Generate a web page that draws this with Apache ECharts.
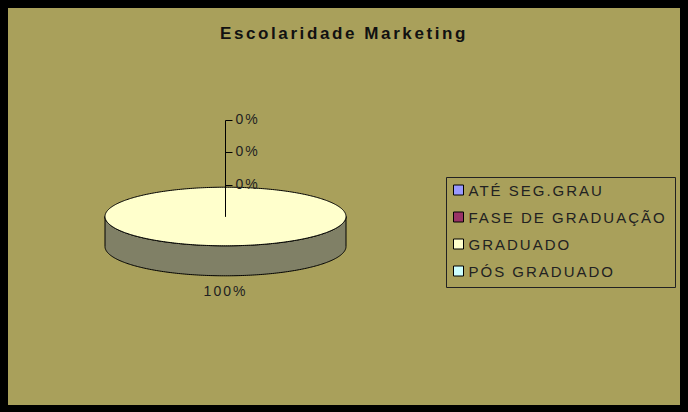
<!DOCTYPE html>
<html><head><meta charset="utf-8">
<script src="https://cdn.jsdelivr.net/npm/echarts@6/dist/echarts.min.js"></script>
<style>
html,body{margin:0;padding:0;background:#000;}
#c{width:688px;height:412px;}
#c text{letter-spacing:2px;}
#c text[style*="bold"]{letter-spacing:2.6px;}
</style></head>
<body><div id="c"></div>
<script>
// ---- data ----
const categories = ['ATÉ SEG.GRAU', 'FASE DE GRADUAÇÃO', 'GRADUADO', 'PÓS GRADUADO'];
const values = [0, 0, 100, 0];
const chartTitle = 'Escolaridade Marketing';

// ---- layout helpers ----
const total = values.reduce((a, b) => a + b, 0);
const startAngles = [];
let acc = 0;
values.forEach(v => { startAngles.push(acc / total * 2 * Math.PI); acc += v; });
const zeroRank = [];
let zc = 0;
values.forEach(v => { zeroRank.push(v === 0 ? zc++ : -1); });

const PIE = { cx: 225.5, cy: 216.5, rx: 120.5, ry: 29.3, depth: 30 };
function pt(a, dy) {
  return [PIE.cx + PIE.rx * Math.sin(a), PIE.cy - PIE.ry * Math.cos(a) + (dy || 0)];
}
function shade(hex, f) {
  const h = hex.replace('#', '');
  const r = Math.round(parseInt(h.substr(0, 2), 16) * f);
  const g = Math.round(parseInt(h.substr(2, 2), 16) * f);
  const b = Math.round(parseInt(h.substr(4, 2), 16) * f);
  return 'rgb(' + r + ',' + g + ',' + b + ')';
}
const labelFont = { fontSize: 14, fontFamily: 'Liberation Sans', fill: '#222' };

function renderSlice(i) {
  return function (params, api) {
    const v = api.value(0);
    const a0 = startAngles[i];
    const a1 = a0 + v / total * 2 * Math.PI;
    const color = api.visual('color');
    const pct = Math.round(v / total * 100) + '%';
    const children = [];
    const step = Math.PI / 180;
    if (a1 > a0 + 1e-9) {
      const s = Math.max(a0, Math.PI / 2), e = Math.min(a1, 3 * Math.PI / 2);
      if (e > s) {
        const pts = [];
        const n = Math.max(2, Math.ceil((e - s) / step));
        for (let k = 0; k <= n; k++) pts.push(pt(s + (e - s) * k / n));
        for (let k = n; k >= 0; k--) pts.push(pt(s + (e - s) * k / n, PIE.depth));
        children.push({ type: 'polygon', z2: 1, shape: { points: pts },
          style: { fill: shade(color, 0.5), stroke: '#000', lineWidth: 1 } });
      }
      const top = [];
      const full = (a1 - a0) >= 2 * Math.PI - 1e-9;
      if (!full) top.push([PIE.cx, PIE.cy]);
      const n = Math.max(2, Math.ceil((a1 - a0) / step));
      for (let k = 0; k <= n; k++) top.push(pt(a0 + (a1 - a0) * k / n));
      children.push({ type: 'polygon', z2: 2, shape: { points: top },
        style: { fill: color, stroke: '#000', lineWidth: 1 } });
      const mid = (a0 + a1) / 2;
      const sx = Math.sin(mid), cz = Math.cos(mid);
      const lx = PIE.cx + (PIE.rx + 15) * sx;
      const ly = PIE.cy - (PIE.ry + 15) * cz + (cz < 0 ? PIE.depth * (-cz) : 0);
      children.push({ type: 'text', z2: 4,
        style: Object.assign({ text: pct, x: lx, y: ly,
          align: Math.abs(sx) < 0.3 ? 'center' : (sx > 0 ? 'left' : 'right'),
          verticalAlign: 'middle' }, labelFont) });
    } else {
      const r = zeroRank[i];
      const tickY = Math.round(PIE.cy - PIE.ry - 2.5 - r * 32.3) + 0.5;
      children.push({ type: 'polyline', z2: 3,
        shape: { points: [[PIE.cx, PIE.cy], [PIE.cx, tickY], [PIE.cx + 7, tickY]] },
        style: { stroke: '#000', lineWidth: 1, fill: null } });
      children.push({ type: 'text', z2: 4,
        style: Object.assign({ text: pct, x: PIE.cx + 10, y: tickY - 1.5,
          align: 'left', verticalAlign: 'middle' }, labelFont) });
    }
    return { type: 'group', children: children };
  };
}

const chart = echarts.init(document.getElementById('c'), null, { renderer: 'svg' });
chart.setOption({
  animation: false,
  backgroundColor: '#000',
  color: ['#9999FF', '#993366', '#FFFFCC', '#CCFFFF'],
  title: {
    text: chartTitle, left: 'center', top: 24, padding: 0,
    textStyle: { fontSize: 17, fontWeight: 'bold', fontFamily: 'Liberation Sans',
      color: '#111', lineHeight: 18 }
  },
  graphic: [
    { type: 'rect', z: -10, silent: true, shape: { x: 8, y: 8, width: 672, height: 397 },
      style: { fill: '#A9A05B' } },
    { type: 'rect', z: 1, silent: true, shape: { x: 446.5, y: 177.5, width: 229, height: 110 },
      style: { fill: null, stroke: '#222', lineWidth: 1 } }
  ],
  legend: {
    orient: 'vertical', left: 453, top: 182, padding: 0,
    itemWidth: 10, itemHeight: 10, itemGap: 11, icon: 'rect',
    selectedMode: false,
    itemStyle: { borderColor: '#000', borderWidth: 1 },
    textStyle: { fontSize: 15, lineHeight: 16, fontFamily: 'Liberation Sans', color: '#222' },
    data: categories
  },
  series: categories.map((name, i) => ({
    type: 'custom', name: name, coordinateSystem: 'none',
    renderItem: renderSlice(i),
    data: [[values[i]]]
  }))
});
</script>
</body></html>
